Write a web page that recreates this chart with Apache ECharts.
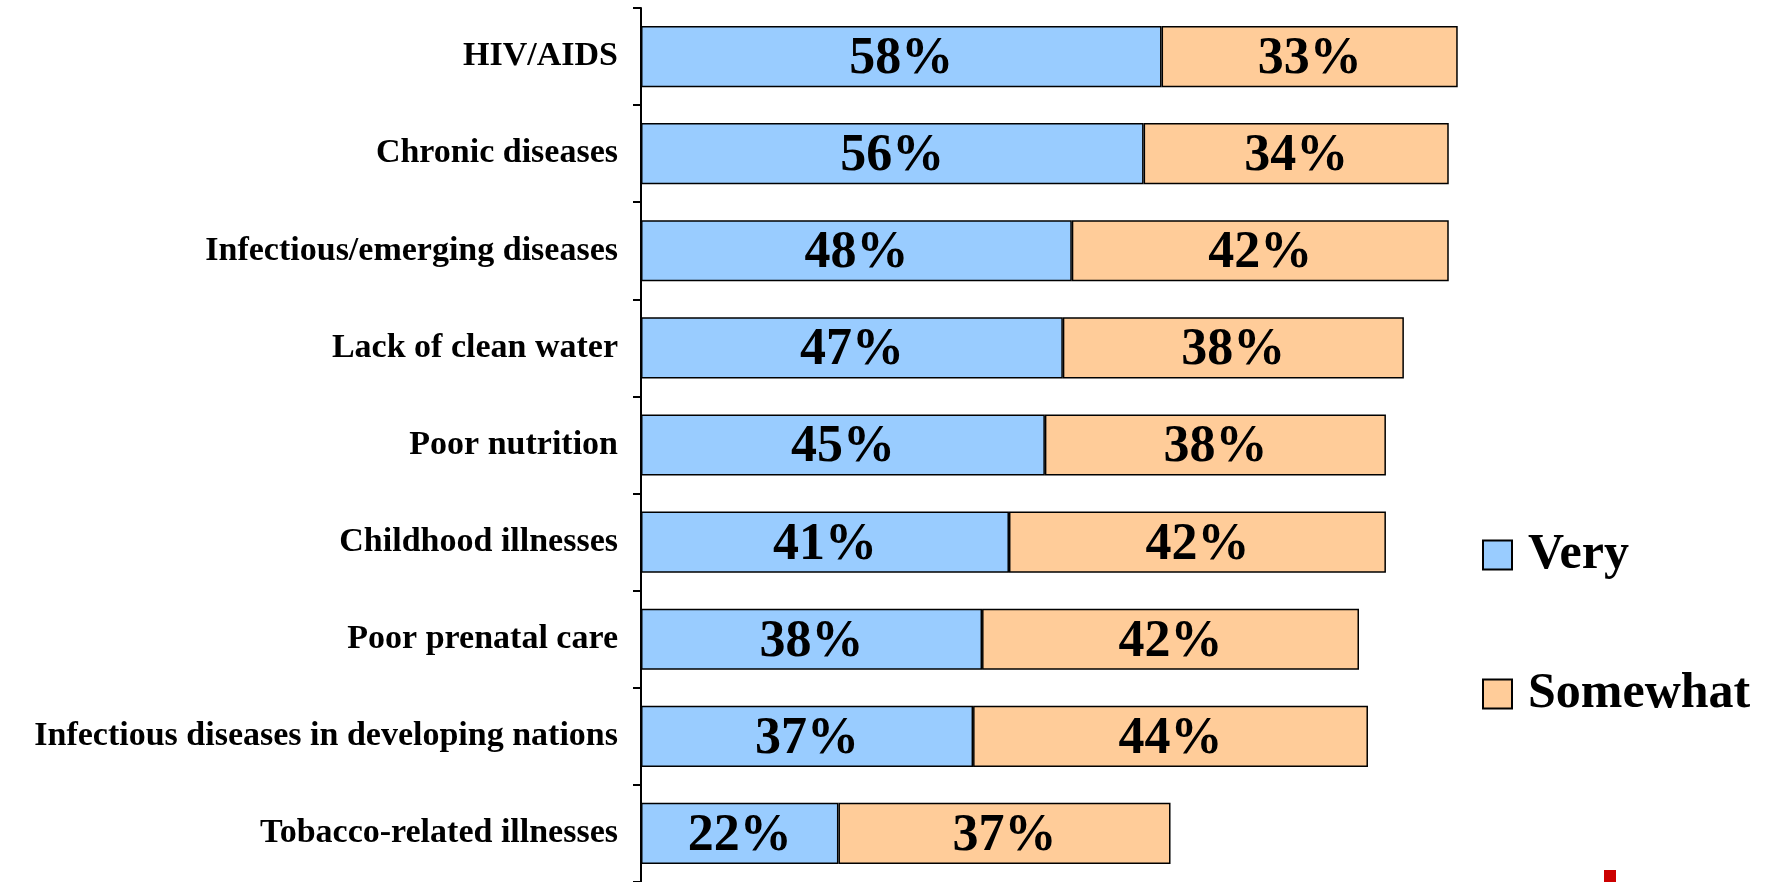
<!DOCTYPE html>
<html>
<head>
<meta charset="utf-8">
<script src="https://cdn.jsdelivr.net/npm/echarts@6/dist/echarts.min.js"></script>
<style>
html,body{margin:0;padding:0;background:#fff;}
#chart{width:1766px;height:882px;}
</style>
</head>
<body>
<div id="chart"></div>
<script>
const categories = [
  "HIV/AIDS",
  "Chronic diseases",
  "Infectious/emerging diseases",
  "Lack of clean water",
  "Poor nutrition",
  "Childhood illnesses",
  "Poor prenatal care",
  "Infectious diseases in developing nations",
  "Tobacco-related illnesses"
];
const veryValues = [58, 56, 48, 47, 45, 41, 38, 37, 22];
const somewhatValues = [33, 34, 42, 38, 38, 42, 42, 44, 37];
const seriesNames = ["Very", "Somewhat"];

const FONT = "'Liberation Serif', 'Times New Roman', serif";
const chart = echarts.init(document.getElementById('chart'), null, {renderer: 'canvas'});

function barSeries(name, data, color) {
  return {
    name: name,
    type: 'bar',
    stack: 'total',
    data: data,
    barCategoryGap: '37%',
    itemStyle: {color: color, borderColor: '#000', borderWidth: 1.5},
    label: {
      show: true,
      position: 'inside',
      offset: [0, 3],
      formatter: '{c}%',
      color: '#000',
      fontFamily: FONT,
      fontWeight: 'bold',
      fontSize: 52
    },
    emphasis: {disabled: true}
  };
}

chart.setOption({
  animation: false,
  backgroundColor: '#fff',
  grid: {left: 641, right: 227.5, top: 8, bottom: 0, containLabel: false, outerBoundsMode: 'none'},
  xAxis: {type: 'value', min: 0, max: 100, show: false},
  yAxis: {
    type: 'category',
    inverse: true,
    data: categories,
    axisLine: {show: true, lineStyle: {color: '#000', width: 2}},
    axisTick: {show: true, length: 8, lineStyle: {color: '#000', width: 2}},
    axisLabel: {
      color: '#000',
      fontFamily: FONT,
      fontWeight: 'bold',
      fontSize: 34,
      margin: 23
    },
    splitLine: {show: false}
  },
  legend: {
    orient: 'vertical',
    left: 1482,
    top: 530,
    padding: 0,
    itemWidth: 29,
    itemHeight: 29,
    itemGap: 89,
    icon: 'rect',
    data: seriesNames,
    selectedMode: false,
    textStyle: {
      color: '#000',
      fontFamily: FONT,
      fontWeight: 'bold',
      fontSize: 50,
      lineHeight: 50,
      padding: [0, 0, 0, 11]
    }
  },
  graphic: [
    {type: 'rect', left: 1604, top: 870, shape: {width: 12, height: 12}, style: {fill: '#CC0000'}}
  ],
  series: [
    barSeries(seriesNames[0], veryValues, '#99CCFF'),
    barSeries(seriesNames[1], somewhatValues, '#FFCC99')
  ]
});
</script>
</body>
</html>
